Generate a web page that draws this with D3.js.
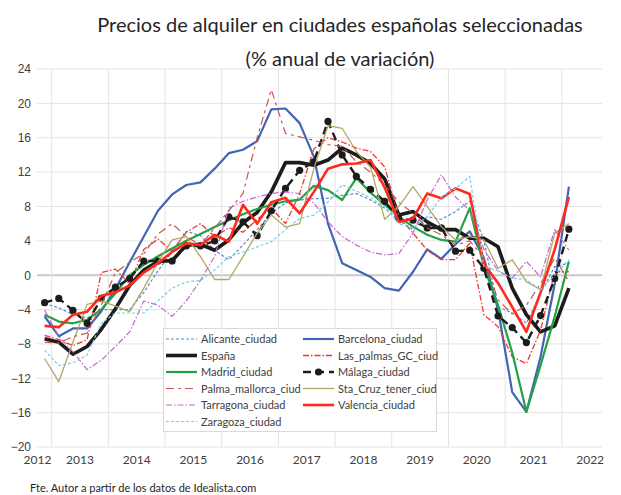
<!DOCTYPE html>
<html>
<head>
<meta charset="utf-8">
<script src="https://cdn.jsdelivr.net/npm/d3@7"></script>
<style>
  body { margin: 0; background: #fff; }
  svg { font-family: Lato, "Open Sans", sans-serif; }
  .grid line { stroke: #e3e3e3; stroke-width: 1; }
  .tick-label { font-size: 12px; fill: #404040; }
  .title { font-size: 20px; fill: #262626; }
  .legend-text { font-size: 11px; fill: #404040; }
  .source { font-size: 11px; fill: #262626; }
</style>
</head>
<body>
<div id="chart"></div>
<script>
// quarterly periods, 2012 T4 .. 2022 T1
const periods = d3.range(38).map(i => {
  const q = (i + 3) % 4 + 1;
  const y = 2012 + Math.floor((i + 3) / 4);
  return `${y}T${q}`;
});
const yearLabels = ['2012', '2013', '2014', '2015', '2016', '2017', '2018', '2019', '2020', '2021', '2022'];
const yTicks = [-20, -16, -12, -8, -4, 0, 4, 8, 12, 16, 20, 24];

const alicante = [-3.3, -3.8, -4.6, -5.0, -4.0, -4.0, -4.0, -2.0, 0.5, 2.7, 5.1, 4.6, 2.9, 1.8, 3.5, 5.3, 7.2, 8.4, 8.75, 8.9, 8.95, 9.3, 9.5, 8.75, 7.8, 6.4, 5.3, 6.8, 6.5, 7.4, 8.6, 4.0, -3.7, -4.4, -5.6, -2.1, 1.0, 1.4];
const barcelona = [-4.8, -7.1, -6.2, -6.2, -4.2, -1.6, 1.5, 4.5, 7.5, 9.4, 10.5, 10.8, 12.4, 14.2, 14.6, 15.6, 19.3, 19.4, 17.7, 13.8, 6.0, 1.4, 0.6, -0.2, -1.5, -1.8, 0.4, 3.0, 1.9, 3.6, 5.1, 2.0, -4.0, -13.6, -15.9, -9.5, -1.0, 10.3];
const espana = [-7.4, -7.8, -9.2, -8.3, -6.3, -3.9, -1.2, 0.6, 1.6, 1.7, 3.5, 3.6, 2.9, 4.1, 6.1, 7.3, 9.7, 13.1, 13.1, 12.8, 13.4, 14.8, 14.0, 13.0, 11.2, 7.0, 7.4, 6.2, 5.3, 5.3, 4.3, 4.3, 3.3, -1.5, -4.6, -6.6, -5.9, -1.5];
const lasPalmas = [-7.0, -7.5, -8.2, -7.5, 0.3, 0.7, -1.0, 3.0, 4.2, 2.8, 5.0, 6.0, 4.5, 5.5, 5.0, 6.5, 7.8, 6.0, 9.5, 14.7, 16.0, 15.5, 14.8, 14.4, 12.6, 6.8, 4.9, 2.9, 1.8, 1.8, 3.7, -4.6, -6.0, -9.5, -10.3, -6.4, 0.4, 0.4];
const madrid = [-4.6, -5.4, -5.6, -5.2, -4.0, -2.1, 0.0, 1.2, 2.2, 3.1, 4.0, 4.8, 5.6, 6.4, 7.1, 7.7, 8.2, 8.6, 8.8, 10.4, 9.9, 8.75, 11.3, 9.6, 8.2, 6.8, 5.65, 4.7, 4.1, 3.9, 7.8, 1.0, -3.5, -9.0, -15.9, -10.5, -4.8, 1.6];
const malaga = [-3.2, -2.7, -4.1, -5.6, -2.7, -1.4, -0.4, 1.65, 1.65, 1.65, 3.4, 3.4, 4.0, 6.8, 6.2, 4.6, 7.5, 10.1, 12.2, 13.2, 17.9, 14.0, 11.5, 10.0, 8.6, 6.6, 6.4, 5.5, 5.5, 2.8, 2.9, 0.8, -4.75, -6.1, -7.85, -4.7, -0.4, 5.35];
const palma = [-7.8, -7.9, -7.15, -6.75, -3.5, 0.3, 1.5, 2.5, 4.8, 6.0, 4.5, 3.5, 5.5, 7.5, 9.5, 16.0, 21.6, 16.5, 16.1, 15.7, 15.2, 15.0, 13.2, 12.0, 10.5, 8.5, 7.2, 5.5, 4.7, 3.5, 4.0, 2.0, -2.9, -4.5, -3.5, -1.0, 2.0, -0.75];
const staCruz = [-9.7, -12.4, -7.8, -3.4, -3.0, -3.6, -4.25, -1.5, 1.5, 4.1, 4.5, 2.15, -0.5, -0.5, 2.15, 4.9, 7.0, 5.6, 6.0, 12.4, 17.4, 17.1, 14.4, 12.6, 6.5, 8.0, 10.3, 8.0, 5.65, 4.1, 4.5, 4.1, 0.8, 1.8, -0.75, -1.7, 4.9, 6.0];
const tarragona = [-4.05, -7.15, -8.9, -11.0, -9.9, -8.3, -6.6, -3.0, -3.5, -4.8, -3.0, -0.6, 2.2, 7.8, 8.6, 9.1, 9.5, 9.7, 9.5, 8.4, 6.2, 4.5, 3.5, 2.7, 2.35, 2.5, 4.9, 8.75, 11.7, 9.1, 7.5, 3.0, 0.5, -0.35, 1.6, -0.2, 5.3, 2.9];
const valencia = [-5.9, -6.05, -4.6, -4.25, -2.4, -2.0, -1.2, 0.3, 1.4, 2.7, 3.7, 3.5, 4.7, 3.9, 8.2, 6.0, 8.5, 9.0, 7.2, 9.7, 12.4, 12.9, 13.0, 13.4, 10.2, 6.2, 6.6, 9.5, 8.95, 10.1, 9.45, 1.3, -0.9, -3.7, -6.6, -2.0, 3.0, 9.1];
const zaragoza = [-8.75, -10.5, -10.2, -9.3, -5.6, -4.4, -4.4, -4.4, -3.0, -1.5, -0.8, -0.6, 0.6, 2.15, 2.7, 3.3, 3.9, 5.3, 6.6, 7.0, 8.5, 10.5, 9.8, 9.0, 8.0, 6.0, 5.5, 6.8, 9.1, 10.1, 11.5, 1.0, 0.5, -0.35, -0.5, -1.7, 0.0, 1.8];

const series = [
  {name: 'Alicante_ciudad', values: alicante, color: '#5b8bd0', width: 1.2, dash: '3,2'},
  {name: 'Barcelona_ciudad', values: barcelona, color: '#4264b4', width: 2.2, dash: null},
  {name: 'España', values: espana, color: '#1c1c1c', width: 3.6, dash: null},
  {name: 'Las_palmas_GC_ciud', values: lasPalmas, color: '#ec3b34', width: 1.3, dash: '6,2,1.5,2'},
  {name: 'Madrid_ciudad', values: madrid, color: '#22a244', width: 2.2, dash: null},
  {name: 'Málaga_ciudad', values: malaga, color: '#1c1c1c', width: 2.4, dash: '8,5', marker: true},
  {name: 'Palma_mallorca_ciud', values: palma, color: '#c45656', width: 1.2, dash: '8,4,3,4'},
  {name: 'Sta_Cruz_tener_ciud', values: staCruz, color: '#b3a665', width: 1.3, dash: null},
  {name: 'Tarragona_ciudad', values: tarragona, color: '#c866c8', width: 1.2, dash: '6,2,1.5,2'},
  {name: 'Valencia_ciudad', values: valencia, color: '#ff2a1a', width: 2.6, dash: null},
  {name: 'Zaragoza_ciudad', values: zaragoza, color: '#72d0ea', width: 1.2, dash: '3,2'}
];

const width = 621, height = 495;
const plot = {left: 37, right: 602, top: 69, bottom: 447};

const svg = d3.select('#chart').append('svg')
  .attr('width', width)
  .attr('height', height);

// x: quarter index, y: % change
const xScale = d3.scaleLinear()
  .domain([0, periods.length - 1])
  .range([44.6, 568.9]);
const yScale = d3.scaleLinear()
  .domain([-20, 24])
  .range([plot.bottom, plot.top]);

// horizontal gridlines
svg.append('g')
  .attr('class', 'grid')
  .selectAll('line')
  .data(yTicks)
  .enter().append('line')
    .attr('x1', plot.left)
    .attr('x2', plot.right)
    .attr('y1', d => yScale(d))
    .attr('y2', d => yScale(d))
    .style('stroke', d => d === 0 ? '#c9c9c9' : null)
    .style('stroke-width', d => d === 0 ? 2 : null);

// vertical gridlines between years (every 4 quarters)
const yearEdges = d3.range(0.5, periods.length, 4);
svg.append('g')
  .attr('class', 'grid')
  .selectAll('line')
  .data(yearEdges)
  .enter().append('line')
    .attr('x1', d => xScale(d))
    .attr('x2', d => xScale(d))
    .attr('y1', plot.top)
    .attr('y2', plot.bottom);

// y axis labels
const yAxis = d3.axisLeft(yScale).tickValues(yTicks).tickSize(0).tickPadding(0);
svg.append('g')
  .attr('transform', `translate(${31}, 0)`)
  .call(yAxis)
  .call(g => g.select('.domain').remove())
  .call(g => g.selectAll('text').attr('class', 'tick-label').attr('font-family', null).attr('font-size', null));

// x labels, centred in each year band
svg.append('g')
  .selectAll('text')
  .data(yearLabels)
  .enter().append('text')
    .attr('class', 'tick-label')
    .attr('text-anchor', 'middle')
    .attr('x', (d, i) => xScale(Math.max(-0.5, 2.5 + 4 * (i - 1))))
    .attr('y', 464)
    .text(d => d);

// lines
const lineGen = d3.line()
  .x((_, i) => xScale(i))
  .y(d => yScale(d));

const lines = svg.append('g');
series.forEach(s => {
  lines.append('path')
    .datum(s.values)
    .attr('fill', 'none')
    .attr('stroke', s.color)
    .attr('stroke-width', s.width)
    .attr('stroke-dasharray', s.dash)
    .attr('stroke-linejoin', 'round')
    .attr('d', lineGen);
  if (s.marker) {
    lines.selectAll('circle.m')
      .data(s.values)
      .enter().append('circle')
        .attr('cx', (_, i) => xScale(i))
        .attr('cy', d => yScale(d))
        .attr('r', 3.6)
        .attr('fill', s.color);
  }
});

// legend
const legend = svg.append('g');
legend.append('rect')
  .attr('x', 163.5)
  .attr('y', 328.5)
  .attr('width', 273)
  .attr('height', 103)
  .attr('fill', '#fff')
  .attr('stroke', '#d9d9d9');

series.forEach((s, i) => {
  const col = i % 2, row = Math.floor(i / 2);
  const lx = col === 0 ? 166 : 303;
  const ly = 339 + row * 16.5;
  const g = legend.append('g');
  g.append('line')
    .attr('x1', lx).attr('x2', lx + 31)
    .attr('y1', ly).attr('y2', ly)
    .attr('stroke', s.color)
    .attr('stroke-width', s.width)
    .attr('stroke-dasharray', s.dash);
  if (s.marker) {
    g.append('circle')
      .attr('cx', lx + 15.5).attr('cy', ly).attr('r', 3.6).attr('fill', s.color);
  }
  g.append('text')
    .attr('class', 'legend-text')
    .attr('x', lx + 35)
    .attr('y', ly + 4)
    .text(s.name);
});

// titles
svg.append('text')
  .attr('class', 'title')
  .attr('x', 340).attr('y', 32)
  .attr('text-anchor', 'middle')
  .text('Precios de alquiler en ciudades españolas seleccionadas');
svg.append('text')
  .attr('class', 'title')
  .attr('x', 340).attr('y', 66)
  .attr('text-anchor', 'middle')
  .text('(% anual de variación)');

svg.append('text')
  .attr('class', 'source')
  .attr('x', 30).attr('y', 492)
  .text('Fte. Autor a partir de los datos de Idealista.com');
</script>
</body>
</html>
